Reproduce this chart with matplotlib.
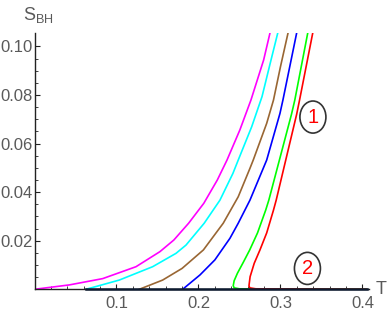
import numpy as np
import matplotlib.pyplot as plt
from matplotlib.patches import Ellipse

plt.rcParams['font.family'] = ['Liberation Sans', 'DejaVu Sans']

# curves S_BH(T) (T, S pairs)
T_magenta = [0.0, 0.0424, 0.0832, 0.1238, 0.1530, 0.1700, 0.1880, 0.2065, 0.2230, 0.2348, 0.2505, 0.2640, 0.2795, 0.2875]
S_magenta = [0.0, 0.0018, 0.0044, 0.0093, 0.0155, 0.0203, 0.0272, 0.0354, 0.0450, 0.0532, 0.0656, 0.0779, 0.0944, 0.1059]

T_cyan = [0.0628, 0.1034, 0.1441, 0.1726, 0.1848, 0.2070, 0.2262, 0.2420, 0.2485, 0.2649, 0.2775, 0.2885, 0.297]
S_cyan = [0.0, 0.0038, 0.0093, 0.0148, 0.0182, 0.0272, 0.0367, 0.0477, 0.0532, 0.0669, 0.0793, 0.0944, 0.1059]

T_brown = [0.1278, 0.1563, 0.1800, 0.2060, 0.2302, 0.2485, 0.2628, 0.2668, 0.2832, 0.2915, 0.3000, 0.3095]
S_brown = [0.0, 0.0038, 0.0086, 0.0162, 0.0272, 0.0381, 0.0498, 0.0532, 0.0683, 0.0779, 0.0916, 0.1059]

T_blue = [0.1807, 0.2018, 0.2200, 0.2384, 0.2485, 0.2628, 0.2832, 0.2994, 0.303, 0.320]
S_blue = [0.0, 0.0059, 0.0121, 0.0210, 0.0272, 0.0367, 0.0532, 0.0724, 0.0779, 0.1059]

T_green = [0.405, 0.25, 0.2435, 0.2424, 0.2435, 0.2475, 0.2545, 0.2625, 0.2720, 0.2820, 0.2858, 0.3135, 0.3175, 0.3335]
S_green = [0.0, 0.0002, 0.0006, 0.0015, 0.0035, 0.0066, 0.0110, 0.0162, 0.0232, 0.0326, 0.0367, 0.0721, 0.0779, 0.1059]

T_red = [0.405, 0.27, 0.2625, 0.2616, 0.2630, 0.2680, 0.2750, 0.2832, 0.2915, 0.2948, 0.3198, 0.3233, 0.3396]
S_red = [0.0, 0.0002, 0.0006, 0.0015, 0.0052, 0.0107, 0.0162, 0.0232, 0.0326, 0.0367, 0.0721, 0.0779, 0.1059]

# zero branch along the T axis
T_zero = [0.0628, 0.405]
S_zero = [0.0, 0.0]

# circled branch labels
branch_labels = ['1', '2']
label_T = [0.3396, 0.3329]
label_S = [0.0709, 0.0086]

fig = plt.figure(figsize=(3.88, 3.19), dpi=100)
ax = fig.add_axes([34.5 / 388, 29.7 / 319, 334.5 / 388, 256.3 / 319])

curves = [
    (T_magenta, S_magenta, '#ff00ff'),
    (T_cyan, S_cyan, '#00ffff'),
    (T_brown, S_brown, '#996633'),
    (T_blue, S_blue, '#0000ff'),
    (T_green, S_green, '#00ff00'),
    (T_red, S_red, '#ff0000'),
]
for t, s, c in curves:
    ax.plot(t, s, color=c, lw=1.2, solid_joinstyle='round')

ax.plot(T_zero, S_zero, color='#0d1a30', lw=1.8, clip_on=False, zorder=3)

for lab, t, s in zip(branch_labels, label_T, label_S):
    ax.add_patch(Ellipse((t, s), 0.0317, 0.0132, fill=False, ec='#333333', lw=1.2))
    ax.text(t, s, lab, color='#ff0000', fontsize=14.5, ha='center', va='center')

ax.set_xlim(0, 0.408)
ax.set_ylim(0, 0.1055)
ax.spines['top'].set_visible(False)
ax.spines['right'].set_visible(False)
for sp in ['left', 'bottom']:
    ax.spines[sp].set_color('#222222')
    ax.spines[sp].set_linewidth(1.0)

ax.set_xticks([0.1, 0.2, 0.3, 0.4])
ax.set_xticklabels(['0.1', '0.2', '0.3', '0.4'])
ax.set_xticks(np.arange(0.02, 0.41, 0.02), minor=True)
ax.set_yticks([0.02, 0.04, 0.06, 0.08, 0.10])
ax.set_yticklabels(['0.02', '0.04', '0.06', '0.08', '0.10'])
ax.set_yticks(np.arange(0.005, 0.105, 0.005), minor=True)
ax.tick_params(which='both', direction='in', colors='#222222', labelcolor='#5a5a5a', labelsize=12)
ax.tick_params(which='major', length=3.5, width=0.8)
ax.tick_params(which='minor', length=2, width=0.6)
ax.tick_params(axis='x', pad=5)
ax.tick_params(axis='y', pad=1.5)

fig.text(23 / 388, 1 - 15 / 319, r'$\mathregular{S_{BH}}$', color='#5a5a5a', fontsize=13, ha='left', va='center')
fig.text(381 / 388, 1 - 289 / 319, 'T', color='#5a5a5a', fontsize=13, ha='center', va='center')

fig.savefig('out.png', dpi=100)
